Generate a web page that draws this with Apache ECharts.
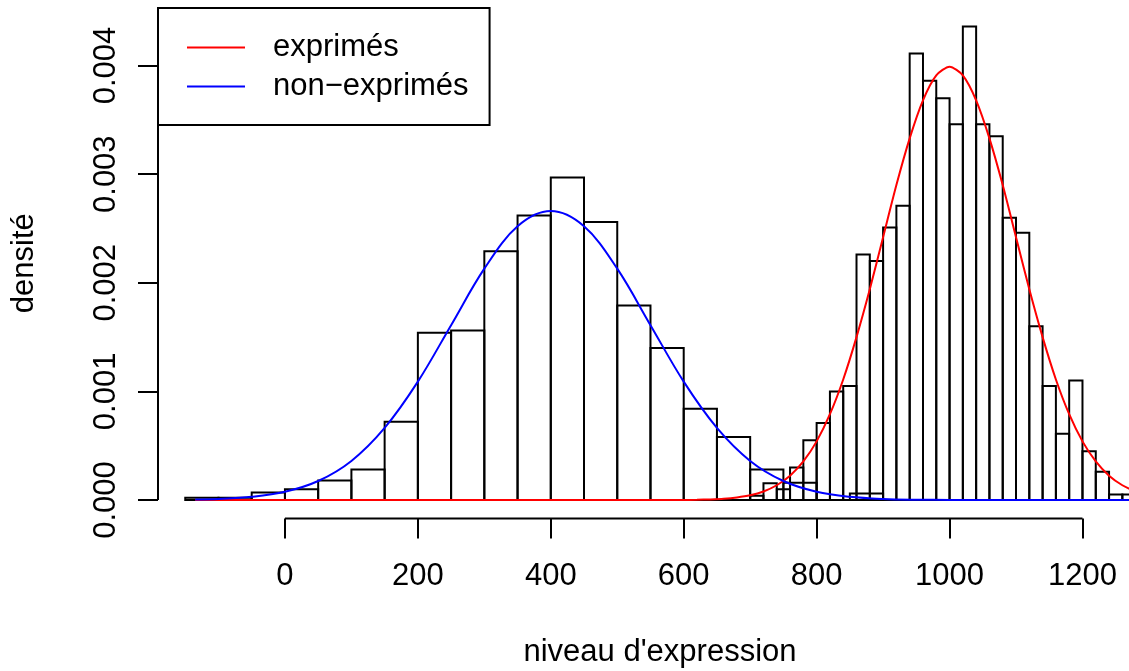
<!DOCTYPE html>
<html>
<head>
<meta charset="utf-8">
<script src="https://cdn.jsdelivr.net/npm/echarts@6/dist/echarts.min.js"></script>
<style>
  html, body { margin: 0; padding: 0; background: #fff; }
  #chart { width: 1129px; height: 671px; }
</style>
</head>
<body>
<div id="chart"></div>
<script>
// histogram of the non-expressed genes: bins of 50 starting at -150
const blueStart = -150;
const blueWidth = 50;
const blueDensity = [0.00002, 0.00002, 0.00007, 0.0001, 0.00018, 0.00028, 0.00072,
    0.00154, 0.00156, 0.00229, 0.00262, 0.00297, 0.00256, 0.00179, 0.0014,
    0.00084, 0.00058, 0.00028, 0.00016, 0, 0.00006];

// histogram of the expressed genes: bins of 20 starting at 700
const redStart = 700;
const redWidth = 20;
const redDensity = [0.00004, 0.000154, 0.0001, 0.0003, 0.00055, 0.00071, 0.001,
    0.00105, 0.00226, 0.0022, 0.00251, 0.00271, 0.00411, 0.00386, 0.0037,
    0.00346, 0.00436, 0.00346, 0.00335, 0.0026, 0.00246, 0.0016, 0.00105,
    0.00061, 0.0011, 0.00045, 0.00026, 0.00005, 0.00005];

// density curves
const redCurveX = [-135, 500, 560, 600, 620, 640, 660, 680, 700, 720, 740, 760, 780, 800,
    820, 840, 860, 880, 900, 920, 940, 960, 980, 1000, 1020, 1040, 1060, 1080,
    1100, 1120, 1140, 1160, 1180, 1200, 1220, 1240, 1260, 1280];
const redCurveY = [0, 0, 0, 0, 0.000002, 0.000006, 0.000012, 0.000024, 0.000044,
    0.000079, 0.000136, 0.000224, 0.000355, 0.00054, 0.00079, 0.00111, 0.0015,
    0.00194, 0.00242, 0.0029, 0.00333, 0.00368, 0.00391, 0.00399, 0.00391,
    0.00368, 0.00333, 0.0029, 0.00242, 0.00194, 0.0015, 0.00111, 0.00079,
    0.00054, 0.000355, 0.000224, 0.000136, 0.000079];

const blueCurveX = [-135, -100, -50, 0, 50, 100, 150, 200, 250, 300, 350, 400, 450, 500,
    550, 600, 650, 700, 750, 800, 850, 900, 950, 1000, 1050, 1280];
const blueCurveY = [0.000005, 0.00001, 0.00003, 0.000076, 0.000175, 0.00036, 0.000664,
    0.00109, 0.00161, 0.00213, 0.00252, 0.00266, 0.00252, 0.00213, 0.00161,
    0.00109, 0.000664, 0.00036, 0.000175, 0.000076, 0.00003, 0.00001, 0.000003,
    0.000001, 0, 0];

const xTicks = [0, 200, 400, 600, 800, 1000, 1200];
const yTicks = [0, 0.001, 0.002, 0.003, 0.004];

const xMin = -191, xMax = 1270;
const yMin = -0.00017, yMax = 0.00453;

const FONT = "'Liberation Sans', Arial, Helvetica, sans-serif";

function toBins(start, width, dens) {
    return dens.map((d, i) => [start + i * width, start + (i + 1) * width, d]);
}

function renderHist(params, api) {
    const p0 = api.coord([api.value(0), 0]);
    const p1 = api.coord([api.value(1), api.value(2)]);
    return {
        type: 'rect',
        shape: { x: p0[0], y: p1[1], width: p1[0] - p0[0], height: p0[1] - p1[1] },
        style: { fill: 'none', stroke: '#000', lineWidth: 2 }
    };
}

const chart = echarts.init(document.getElementById('chart'));

chart.setOption({
    backgroundColor: '#fff',
    animation: false,
    textStyle: { fontFamily: FONT, color: '#000' },
    grid: { left: 158, top: 8, right: 0, bottom: 152.5, containLabel: false, outerBoundsMode: 'none' },
    legend: {
        data: ['exprimés', 'non\u2212exprimés'],
        orient: 'vertical',
        left: 158,
        top: 8,
        padding: [24, 21, 23, 29],
        itemGap: 8,
        itemWidth: 58,
        itemHeight: 2,
        icon: 'rect',
        backgroundColor: '#fff',
        borderColor: '#000',
        borderWidth: 2,
        borderRadius: 0,
        selectedMode: false,
        textStyle: { fontFamily: FONT, fontSize: 31, color: '#000', padding: [0, 0, 0, 23] }
    },
    xAxis: {
        type: 'value',
        min: xMin,
        max: xMax,
        name: "niveau d'expression",
        nameLocation: 'middle',
        nameGap: 118,
        nameTextStyle: { fontFamily: FONT, fontSize: 31, color: '#000', padding: [0, 0, 0, 33] },
        axisLine: { show: false, onZero: false },
        axisTick: { show: true, length: 20, customValues: xTicks, lineStyle: { color: '#000', width: 2 } },
        axisLabel: {
            customValues: xTicks,
            margin: 42,
            fontFamily: FONT,
            fontSize: 31,
            color: '#000',
            formatter: v => String(v)
        },
        splitLine: { show: false }
    },
    yAxis: {
        type: 'value',
        min: yMin,
        max: yMax,
        name: 'densité',
        nameLocation: 'middle',
        nameGap: 118,
        nameTextStyle: { fontFamily: FONT, fontSize: 31, color: '#000' },
        axisLine: { show: false, onZero: false },
        axisTick: { show: true, length: 20, customValues: yTicks, lineStyle: { color: '#000', width: 2 } },
        axisLabel: {
            customValues: yTicks,
            rotate: 90,
            margin: 36,
            fontFamily: FONT,
            fontSize: 31,
            color: '#000',
            formatter: v => v.toFixed(3)
        },
        splitLine: { show: false }
    },
    series: [
        {
            name: 'axe x',
            type: 'line',
            data: [[xTicks[0], yMin], [xTicks[xTicks.length - 1], yMin]],
            showSymbol: false,
            clip: false,
            silent: true,
            lineStyle: { color: '#000', width: 2 }
        },
        {
            name: 'axe y',
            type: 'line',
            data: [[xMin, yTicks[0]], [xMin, yTicks[yTicks.length - 1]]],
            showSymbol: false,
            clip: false,
            silent: true,
            lineStyle: { color: '#000', width: 2 }
        },
        {
            name: 'hist non',
            type: 'custom',
            renderItem: renderHist,
            encode: { x: [0, 1], y: 2 },
            data: toBins(blueStart, blueWidth, blueDensity),
            clip: true,
            silent: true
        },
        {
            name: 'hist exp',
            type: 'custom',
            renderItem: renderHist,
            encode: { x: [0, 1], y: 2 },
            data: toBins(redStart, redWidth, redDensity),
            clip: true,
            silent: true
        },
        {
            name: 'exprimés',
            type: 'line',
            data: redCurveX.map((x, i) => [x, redCurveY[i]]),
            smooth: 0.25,
            showSymbol: false,
            clip: true,
            silent: true,
            color: '#ff0000',
            lineStyle: { color: '#ff0000', width: 2 }
        },
        {
            name: 'non\u2212exprimés',
            type: 'line',
            data: blueCurveX.map((x, i) => [x, blueCurveY[i]]),
            smooth: 0.35,
            showSymbol: false,
            clip: true,
            silent: true,
            color: '#0000ff',
            lineStyle: { color: '#0000ff', width: 2 }
        }
    ]
});
</script>
</body>
</html>
